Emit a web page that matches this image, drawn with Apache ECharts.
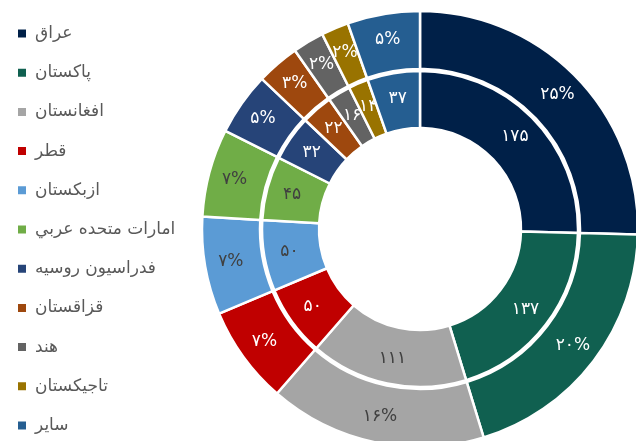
<!DOCTYPE html>
<html lang="fa">
<head>
    <meta charset="UTF-8">
    <title>donut</title>
    <script src="https://cdn.jsdelivr.net/npm/echarts@6/dist/echarts.min.js"></script>
</head>
<body style="padding: 0; margin: 0; background: #fff">
    <div id="main" style="width: 636px; height: 441px;"></div>
<script>
    var countries = ['عراق', 'پاکستان', 'افغانستان', 'قطر', 'ازبکستان', 'امارات متحده عربي',
        'فدراسيون روسيه', 'قزاقستان', 'هند', 'تاجيکستان', 'ساير'];
    var values = [175, 137, 111, 50, 50, 45, 32, 22, 16, 14, 37];

    var colors = ['#002048', '#106050', '#a5a5a5', '#c00000', '#5b9bd5', '#70ad47',
        '#264478', '#9e480e', '#636363', '#997300', '#255e91'];
    // light slices get dark text
    var darkText = ['افغانستان', 'ازبکستان', 'امارات متحده عربي'];

    function fa(s) {
        return String(s).replace(/[0-9]/g, function (d) { return '۰۱۲۳۴۵۶۷۸۹'[d]; });
    }

    function buildData() {
        return countries.map(function (c, i) {
            return {
                name: c,
                value: values[i],
                label: { color: darkText.indexOf(c) >= 0 ? '#404040' : '#ffffff' }
            };
        });
    }

    var myChart = echarts.init(document.getElementById('main'));
    var option = {
        color: colors,
        animation: false,
        legend: {
            orient: 'vertical',
            left: 11,
            top: 20,
            itemWidth: 10,
            itemHeight: 10,
            itemGap: 22.2,
            icon: 'rect',
            textStyle: { fontFamily: 'DejaVu Sans', fontSize: 17, color: '#595959', padding: [0, 0, 4, 3] },
            data: countries
        },
        series: [
            {
                name: 'inner',
                type: 'pie',
                center: [420, 229],
                radius: [101, 158],
                startAngle: 90,
                minShowLabelAngle: 0,
                itemStyle: { borderColor: '#fff', borderWidth: 2.5 },
                label: {
                    position: 'inside',
                    fontFamily: 'DejaVu Sans',
                    fontSize: 17,
                    formatter: function (p) { return fa(p.value); }
                },
                labelLayout: { hideOverlap: false },
                labelLine: { show: false },
                data: buildData()
            },
            {
                name: 'outer',
                type: 'pie',
                center: [420, 229],
                radius: [160, 218],
                startAngle: 90,
                minShowLabelAngle: 0,
                itemStyle: { borderColor: '#fff', borderWidth: 2.5 },
                label: {
                    position: 'inside',
                    fontFamily: 'DejaVu Sans',
                    fontSize: 17,
                    formatter: function (p) { return fa(Math.round(p.percent)) + '%'; }
                },
                labelLayout: { hideOverlap: false },
                labelLine: { show: false },
                data: buildData()
            }
        ]
    };
    myChart.setOption(option);
</script>
</body>
</html>
